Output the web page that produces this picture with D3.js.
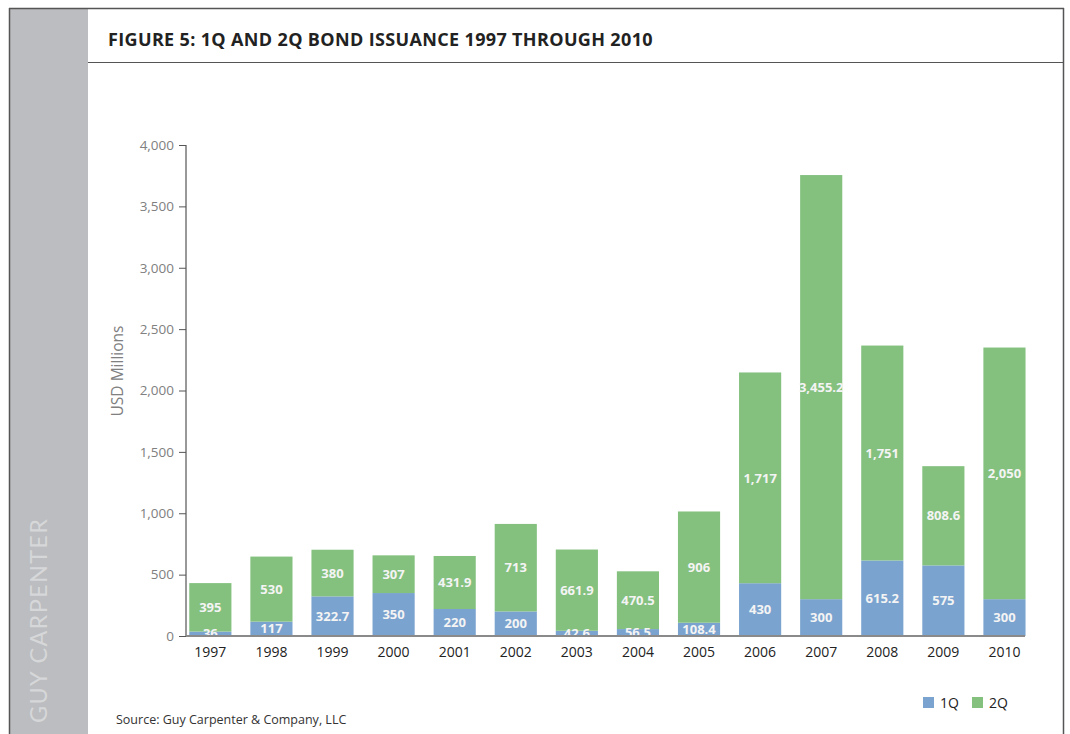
<!DOCTYPE html>
<html><head><meta charset="utf-8">
<script src="https://cdn.jsdelivr.net/npm/d3@7"></script>
<style>body{margin:0;background:#fff;}svg{display:block;}</style>
</head><body>
<svg id="chart" width="1070" height="734"></svg>
<script>
const years = ["1997","1998","1999","2000","2001","2002","2003","2004","2005","2006","2007","2008","2009","2010"];
const q1 = [36,117,322.7,350,220,200,42.6,56.5,108.4,430,300,615.2,575,300];
const q2 = [395,530,380,307,431.9,713,661.9,470.5,906,1717,3455.2,1751,808.6,2050];
const q1Labels = ["36","117","322.7","350","220","200","42.6","56.5","108.4","430","300","615.2","575","300"];
const q2Labels = ["395","530","380","307","431.9","713","661.9","470.5","906","1,717","3,455.2","1,751","808.6","2,050"];
const yTicks = [0,500,1000,1500,2000,2500,3000,3500,4000];
const seriesNames = ["1Q","2Q"];
const colors = ["#7ba3cf","#84c17f"];

const svg = d3.select("#chart");
const font = "'Open Sans', 'Noto Sans', sans-serif";

// frame
svg.append("rect").attr("x",10).attr("y",9).attr("width",78).attr("height",730).attr("fill","#bcbdc0");
svg.append("line").attr("x1",9.5).attr("x2",9.5).attr("y1",8).attr("y2",734).attr("stroke","#555").attr("stroke-width",1.5);
svg.append("line").attr("x1",9).attr("x2",1064).attr("y1",8.5).attr("y2",8.5).attr("stroke","#555").attr("stroke-width",1.5);
svg.append("line").attr("x1",1063.5).attr("x2",1063.5).attr("y1",8).attr("y2",734).attr("stroke","#555").attr("stroke-width",1.5);
svg.append("line").attr("x1",88).attr("x2",1064).attr("y1",62.5).attr("y2",62.5).attr("stroke","#555").attr("stroke-width",1.2);

svg.append("text").attr("transform","translate(47,723) rotate(-90)")
  .attr("font-family","Lato, 'Open Sans', sans-serif").attr("font-size",23.5).attr("letter-spacing",1.3)
  .attr("fill","#d6d7d9").text("GUY CARPENTER");

svg.append("text").attr("x",108).attr("y",46).attr("font-family",font).attr("font-weight","bold")
  .attr("font-size",18).attr("letter-spacing",0.35).attr("fill","#222").text("FIGURE 5: 1Q AND 2Q BOND ISSUANCE 1997 THROUGH 2010");

const y = d3.scaleLinear().domain([0,4000]).range([636,145]);
const x = d3.scaleBand().domain(years).range([179.8,1035]).paddingInner(0.31).paddingOuter(0.155);

const data = years.map((yr,i)=>({year:yr,"1Q":q1[i],"2Q":q2[i],l1:q1Labels[i],l2:q2Labels[i]}));
const stack = d3.stack().keys(seriesNames)(data);

svg.append("defs").append("clipPath").attr("id","plotclip").append("rect")
  .attr("x",180).attr("y",100).attr("width",880).attr("height",536);

const g = svg.append("g");
stack.forEach((s,si)=>{
  g.selectAll(null).data(s).enter().append("rect")
    .attr("x",d=>x(d.data.year)).attr("width",x.bandwidth())
    .attr("y",d=>y(d[1])).attr("height",d=>y(d[0])-y(d[1]))
    .attr("fill",colors[si]);
});
const lg = svg.append("g").attr("clip-path","url(#plotclip)");
stack.forEach((s,si)=>{
  lg.selectAll(null).data(s).enter().append("text")
    .attr("x",d=>x(d.data.year)+x.bandwidth()/2)
    .attr("y",d=>(y(d[0])+y(d[1]))/2)
    .attr("dy","0.36em").attr("text-anchor","middle")
    .attr("font-family",font).attr("font-weight","bold").attr("font-size",13)
    .attr("fill","#f4f4f4")
    .text(d=>si===0?d.data.l1:d.data.l2);
});

// y axis
const yAxis = svg.append("g").attr("transform","translate(186,0)")
  .call(d3.axisLeft(y).tickValues(yTicks).tickSize(7).tickPadding(5).tickFormat(d3.format(",")));
yAxis.select(".domain").attr("stroke","#333").attr("d","M0,145V636");
yAxis.selectAll(".tick line").attr("stroke","#555");
yAxis.selectAll("text").attr("font-family",font).attr("font-size",13.5).attr("fill","#808080");

// x axis
const xAxis = svg.append("g").attr("transform","translate(0,636)")
  .call(d3.axisBottom(x).tickSize(0).tickPadding(11));
xAxis.select(".domain").attr("stroke","#8a8a8a").attr("stroke-width",2).attr("d","M186,0H1025");
xAxis.selectAll("text").attr("font-family",font).attr("font-size",14).attr("fill","#222");

svg.append("text").attr("transform","translate(123,371) rotate(-90)").attr("text-anchor","middle")
  .attr("font-family",font).attr("font-size",15.5).attr("fill","#808080").text("USD Millions");

// legend
const leg = svg.append("g").attr("transform","translate(923,697)");
seriesNames.forEach((n,i)=>{
  const gi = leg.append("g").attr("transform",`translate(${i*49},0)`);
  gi.append("rect").attr("width",11).attr("height",11).attr("fill",colors[i]);
  gi.append("text").attr("x",17).attr("y",10.5).attr("font-family",font).attr("font-size",14).attr("fill","#222").text(n);
});

svg.append("text").attr("x",116).attr("y",724).attr("font-family",font).attr("font-size",12.5)
  .attr("fill","#333").text("Source: Guy Carpenter & Company, LLC");
</script>
</body></html>
